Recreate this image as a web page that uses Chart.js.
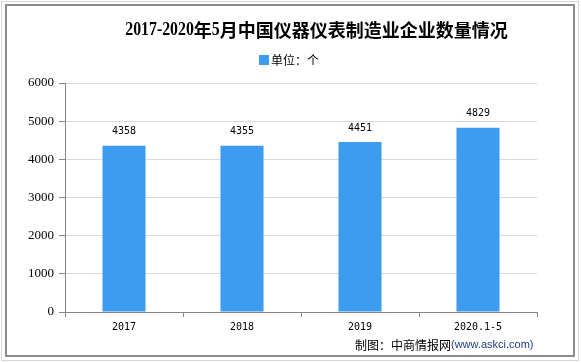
<!DOCTYPE html>
<html>
<head>
<meta charset="utf-8">
<script src="https://cdn.jsdelivr.net/npm/chart.js@4/dist/chart.umd.min.js"></script>
<style>
  html,body{margin:0;padding:0;background:#fff;}
  #wrap{position:absolute;left:0;top:0;width:581px;height:363px;}
</style>
</head>
<body>
<div id="wrap"><canvas id="c" width="581" height="363"></canvas></div>
<script>
const titleText = '2017-2020年5月中国仪器仪表制造业企业数量情况';
const legendLabel = '单位：个';
const sourceMain = '制图：中商情报网';
const sourceUrl = '(www.askci.com)';
const categories = ['2017', '2018', '2019', '2020.1-5'];
const values = [4358, 4355, 4451, 4829];
const yTicks = [0, 1000, 2000, 3000, 4000, 5000, 6000];

const BAR = '#3d9cf0';
const AXIS = '#868686';

const decor = {
  id: 'decor',
  beforeDraw(chart) {
    const ctx = chart.ctx;
    ctx.save();
    ctx.fillStyle = '#fff';
    ctx.fillRect(0, 0, chart.width, chart.height);
    ctx.lineWidth = 1;
    ctx.strokeStyle = '#d6d6d6';
    ctx.strokeRect(1.5, 1.5, 577, 359);
    ctx.lineWidth = 2;
    ctx.strokeStyle = '#8c8c8c';
    ctx.strokeRect(6, 5, 568, 351);
    ctx.restore();
  },
  afterDraw(chart) {
    const ctx = chart.ctx;
    ctx.save();
    const latin = /[0-9A-Za-z\-\.]/;
    const runs = [];
    for (const ch of titleText) {
      const isL = latin.test(ch);
      if (runs.length && runs[runs.length - 1].l === isL) runs[runs.length - 1].t += ch;
      else runs.push({ t: ch, l: isL });
    }
    const lf = 'bold 18px "Liberation Serif"';
    const cf = 'bold 18px "Noto Sans CJK SC"';
    const sx = 0.88;
    let total = 0;
    runs.forEach(r => {
      ctx.font = r.l ? lf : cf;
      r.w = ctx.measureText(r.t).width * (r.l ? sx : 1);
      total += r.w;
    });
    let x = 316.5 - total / 2;
    ctx.fillStyle = '#000';
    ctx.textBaseline = 'middle';
    ctx.textAlign = 'left';
    runs.forEach(r => {
      ctx.font = r.l ? lf : cf;
      if (r.l) {
        ctx.save();
        ctx.translate(x, 30);
        ctx.scale(sx, 1);
        ctx.fillText(r.t, 0, 0);
        ctx.restore();
      } else {
        ctx.fillText(r.t, x, 30);
      }
      x += r.w;
    });
    ctx.fillStyle = BAR;
    ctx.fillRect(259, 55, 10, 10);
    ctx.fillStyle = '#000';
    ctx.font = '12px "Noto Sans CJK SC"';
    ctx.fillText(legendLabel, 271, 60);
    const meta = chart.getDatasetMeta(0);
    ctx.font = '10px "DejaVu Sans Mono"';
    ctx.textAlign = 'center';
    meta.data.forEach((el, i) => {
      ctx.fillText(String(values[i]), el.x, el.y - 14);
    });
    ctx.textAlign = 'left';
    ctx.font = '12px "Noto Sans CJK SC"';
    ctx.fillStyle = '#000';
    ctx.fillText(sourceMain, 355, 345);
    const w = ctx.measureText(sourceMain).width;
    ctx.font = '11px "Liberation Sans"';
    ctx.fillStyle = '#1f3c8c';
    ctx.fillText(sourceUrl, 355 + w, 345);
    ctx.restore();
  }
};

new Chart(document.getElementById('c'), {
  type: 'bar',
  data: {
    labels: categories,
    datasets: [{
      label: legendLabel,
      data: values,
      backgroundColor: BAR,
      borderWidth: 0,
      categoryPercentage: 1,
      barPercentage: 0.365
    }]
  },
  options: {
    responsive: false,
    animation: false,
    devicePixelRatio: 1,
    layout: { padding: { left: 0, top: 83, right: 44, bottom: 0 } },
    plugins: {
      legend: { display: false },
      title: { display: false },
      tooltip: { enabled: false }
    },
    scales: {
      x: {
        offset: true,
        grid: { display: true, drawOnChartArea: false, offset: true, color: AXIS, tickLength: 5 },
        border: { color: AXIS, width: 1 },
        ticks: { color: '#000', font: { family: 'DejaVu Sans Mono', size: 10 }, padding: 4, maxRotation: 0 },
        afterFit(s) { s.height = 51; }
      },
      y: {
        min: 0, max: 6000,
        afterBuildTicks(s) { s.ticks = yTicks.map(v => ({ value: v })); },
        grid: { color: '#d9d9d9', tickColor: AXIS, tickLength: 6 },
        border: { color: AXIS, width: 1 },
        ticks: { color: '#000', font: { family: 'Liberation Serif', size: 13 }, padding: 5, callback: v => String(v) },
        afterFit(s) { s.width = 65; }
      }
    }
  },
  plugins: [decor]
});
</script>
</body>
</html>
